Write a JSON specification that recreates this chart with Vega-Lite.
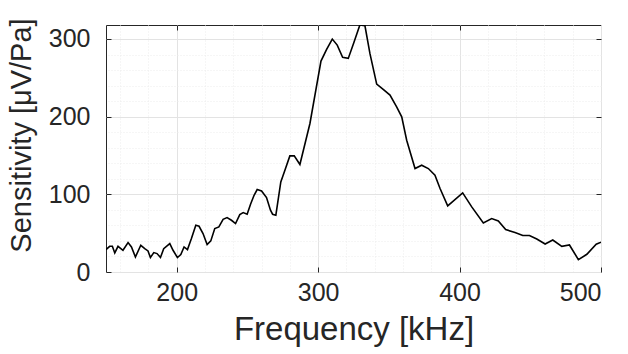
{
  "$schema": "https://vega.github.io/schema/vega-lite/v6.json",
  "width": 495,
  "height": 247,
  "autosize": {"type": "none"},
  "padding": {"left": 106, "top": 25, "right": 27, "bottom": 82},
  "background": "white",
  "config": {
    "view": {"stroke": "#262626", "strokeWidth": 1},
    "font": "Liberation Sans",
    "axis": {"labelFont": "Liberation Sans", "titleFont": "Liberation Sans", "labelColor": "#262626", "titleColor": "#262626", "titleFontWeight": "normal"}
  },
  "data": {
    "values": [
      {"f": 150, "s": 28.8}, {"f": 152.6, "s": 33.1}, {"f": 154.5, "s": 33.1}, {"f": 156.2, "s": 24.5},
      {"f": 158.5, "s": 33.1}, {"f": 162.0, "s": 28.0}, {"f": 165.6, "s": 37.9}, {"f": 168.0, "s": 32.2},
      {"f": 170.8, "s": 19.3}, {"f": 174.6, "s": 34.4}, {"f": 177.4, "s": 30.1}, {"f": 179.7, "s": 27.1},
      {"f": 181.4, "s": 18.6}, {"f": 183.8, "s": 25.0}, {"f": 186.1, "s": 23.7}, {"f": 188.5, "s": 18.6},
      {"f": 190.8, "s": 30.1}, {"f": 195.1, "s": 36.6}, {"f": 197.4, "s": 28.0}, {"f": 200.5, "s": 18.6},
      {"f": 202.9, "s": 22.4}, {"f": 205.2, "s": 32.2}, {"f": 207.6, "s": 28.8}, {"f": 210.4, "s": 43.0},
      {"f": 213.5, "s": 60.2}, {"f": 215.8, "s": 58.9}, {"f": 218.6, "s": 49.5}, {"f": 221.5, "s": 35.3},
      {"f": 224.1, "s": 40.0}, {"f": 226.9, "s": 55.9}, {"f": 229.8, "s": 58.0}, {"f": 232.8, "s": 67.9},
      {"f": 235.6, "s": 70.1}, {"f": 238.7, "s": 66.6}, {"f": 241.6, "s": 62.4}, {"f": 244.6, "s": 73.9},
      {"f": 247.0, "s": 76.5}, {"f": 249.8, "s": 74.4}, {"f": 252.2, "s": 87.2}, {"f": 254.7, "s": 98.8},
      {"f": 256.9, "s": 106.2}, {"f": 260.0, "s": 104.4}, {"f": 263.5, "s": 95.9}, {"f": 266.3, "s": 79.5},
      {"f": 267.8, "s": 74.4}, {"f": 270.1, "s": 73.1}, {"f": 273.6, "s": 116.0}, {"f": 276.5, "s": 131.1},
      {"f": 280.0, "s": 149.5}, {"f": 283.1, "s": 149.5}, {"f": 287.1, "s": 138.4}, {"f": 294.2, "s": 191.2},
      {"f": 302.0, "s": 271.5}, {"f": 306.0, "s": 286.6}, {"f": 310.0, "s": 299.9}, {"f": 313.5, "s": 292.1},
      {"f": 317.3, "s": 276.3}, {"f": 321.3, "s": 275.0}, {"f": 325.4, "s": 296.0}, {"f": 329.5, "s": 318.0},
      {"f": 333.1, "s": 317.0}, {"f": 336.6, "s": 281.4}, {"f": 341.4, "s": 241.9}, {"f": 346.0, "s": 235.0},
      {"f": 350.8, "s": 227.7}, {"f": 355.5, "s": 212.6}, {"f": 359.1, "s": 199.7}, {"f": 362.6, "s": 169.7},
      {"f": 368.5, "s": 133.2}, {"f": 373.2, "s": 137.5}, {"f": 377.9, "s": 133.2}, {"f": 382.6, "s": 124.6},
      {"f": 386.2, "s": 107.5}, {"f": 391.6, "s": 85.1}, {"f": 402.2, "s": 101.8}, {"f": 408.6, "s": 83.8},
      {"f": 416.8, "s": 63.1}, {"f": 422.7, "s": 68.8}, {"f": 427.4, "s": 65.7}, {"f": 432.6, "s": 54.6},
      {"f": 439.2, "s": 50.8}, {"f": 444.7, "s": 46.9}, {"f": 449.4, "s": 46.9}, {"f": 454.6, "s": 42.5},
      {"f": 460.5, "s": 36.1}, {"f": 465.9, "s": 41.2}, {"f": 472.3, "s": 33.1}, {"f": 477.7, "s": 34.8},
      {"f": 484.0, "s": 16.0}, {"f": 490.0, "s": 22.8}, {"f": 496.6, "s": 35.7}, {"f": 500, "s": 38.3}
    ]
  },
  "layer": [
    {
      "mark": {"type": "line", "opacity": 0},
      "encoding": {
        "x": {"field": "f", "type": "quantitative", "scale": {"domain": [150, 500], "nice": false, "zero": false},
          "axis": {"orient": "top", "values": [160,180,200,220,240,260,280,300,320,340,360,380,400,420,440,460,480,500], "grid": true, "gridColor": "#ececec", "gridDash": [1, 2], "labels": false, "ticks": false, "domain": false, "title": null}},
        "y": {"field": "s", "type": "quantitative", "scale": {"domain": [0, 318], "nice": false},
          "axis": {"orient": "right", "values": [20,40,60,80,100,120,140,160,180,200,220,240,260,280,300], "grid": true, "gridColor": "#ececec", "gridDash": [1, 2], "labels": false, "ticks": false, "domain": false, "title": null}}
      }
    },
    {
      "mark": {"type": "line", "opacity": 0},
      "encoding": {
        "x": {"field": "f", "type": "quantitative",
          "axis": {"orient": "top", "values": [200, 300, 400], "grid": false, "labels": false, "ticks": true, "tickSize": -5, "tickColor": "#262626", "domain": false, "title": null}},
        "y": {"field": "s", "type": "quantitative",
          "axis": {"orient": "right", "values": [100, 200, 300], "grid": false, "labels": false, "ticks": true, "tickSize": -5, "tickColor": "#262626", "domain": false, "title": null}}
      }
    },
    {
      "mark": {"type": "line", "color": "#000000", "strokeWidth": 1.6, "clip": true},
      "encoding": {
        "x": {"field": "f", "type": "quantitative",
          "axis": {"orient": "bottom", "values": [200, 300, 400, 500], "grid": true, "gridColor": "#e3e3e3", "labelFontSize": 25, "labelPadding": 13, "ticks": true, "tickSize": -5, "tickColor": "#262626", "domain": false, "title": "Frequency [kHz]", "titleFontSize": 33, "titlePadding": 8}},
        "y": {"field": "s", "type": "quantitative",
          "axis": {"orient": "left", "values": [0, 100, 200, 300], "grid": true, "gridColor": "#e3e3e3", "labelFontSize": 25, "labelPadding": 21, "ticks": true, "tickSize": -5, "tickColor": "#262626", "domain": false, "title": "Sensitivity [μV/Pa]", "titleFontSize": 29, "titlePadding": 12, "titleY": 110}}
      }
    }
  ],
  "resolve": {"axis": {"x": "independent", "y": "independent"}}
}
